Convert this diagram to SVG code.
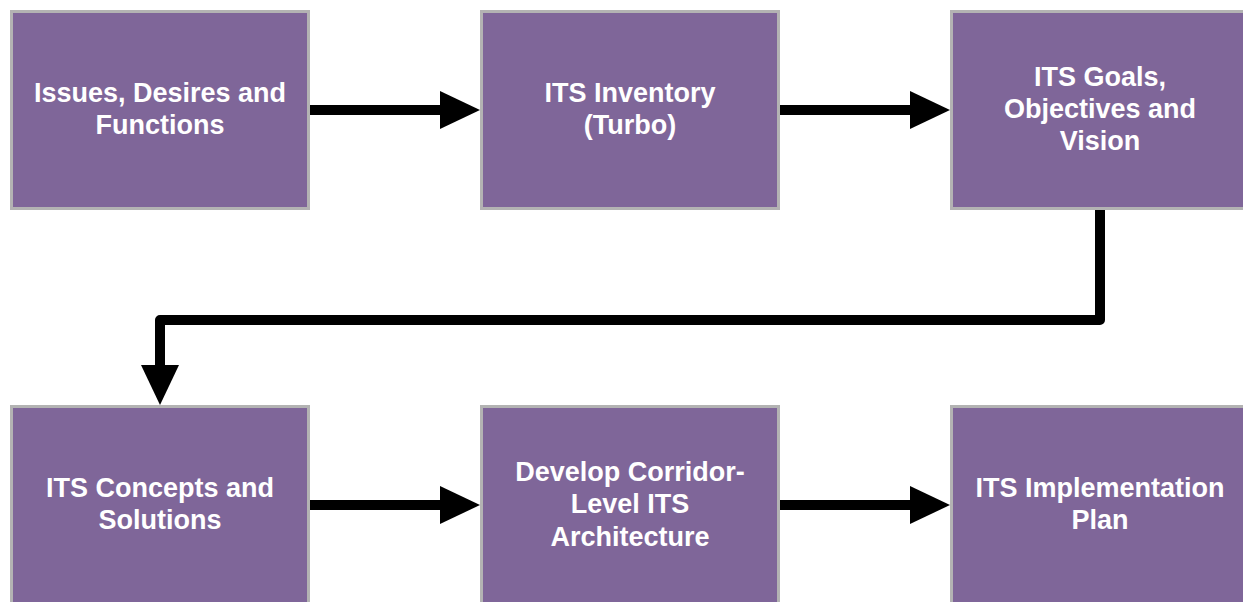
<svg xmlns="http://www.w3.org/2000/svg" width="1243" height="602" viewBox="0 0 1243 602">
<style>
.box{fill:#7f6699;stroke:#b3b3b3;stroke-width:3}
.lbl{font-family:"Liberation Sans",Arial,sans-serif;font-weight:bold;font-size:27px;fill:#ffffff;text-anchor:middle}
.con{fill:none;stroke:#000;stroke-width:10;stroke-linejoin:round}
.head{fill:#000}
</style>
<rect width="1243" height="602" fill="#fff"/>
<g id="n1"><rect class="box" x="11.5" y="11.5" width="297" height="197"/><text class="lbl" x="160" y="102">Issues, Desires and</text><text class="lbl" x="160" y="134">Functions</text></g>
<g id="n2"><rect class="box" x="481.5" y="11.5" width="297" height="197"/><text class="lbl" x="630" y="102">ITS Inventory</text><text class="lbl" x="630" y="134">(Turbo)</text></g>
<g id="n3"><rect class="box" x="951.5" y="11.5" width="297" height="197"/><text class="lbl" x="1100" y="86">ITS Goals,</text><text class="lbl" x="1100" y="118">Objectives and</text><text class="lbl" x="1100" y="150">Vision</text></g>
<g id="n4"><rect class="box" x="11.5" y="406.5" width="297" height="197"/><text class="lbl" x="160" y="497">ITS Concepts and</text><text class="lbl" x="160" y="529">Solutions</text></g>
<g id="n5"><rect class="box" x="481.5" y="406.5" width="297" height="197"/><text class="lbl" x="630" y="481">Develop Corridor-</text><text class="lbl" x="630" y="513">Level ITS</text><text class="lbl" x="630" y="546">Architecture</text></g>
<g id="n6"><rect class="box" x="951.5" y="406.5" width="297" height="197"/><text class="lbl" x="1100" y="497">ITS Implementation</text><text class="lbl" x="1100" y="529">Plan</text></g>
<g id="connectors">
<path class="con" d="M310 110 H444"/><polygon class="head" points="440,91 480,110 440,129"/>
<path class="con" d="M780 110 H914"/><polygon class="head" points="910,91 950,110 910,129"/>
<path class="con" d="M1100 210 V320 H160 V369"/><polygon class="head" points="141,365 179,365 160,405"/>
<path class="con" d="M310 505 H444"/><polygon class="head" points="440,486 480,505 440,524"/>
<path class="con" d="M780 505 H914"/><polygon class="head" points="910,486 950,505 910,524"/>
</g>
</svg>
